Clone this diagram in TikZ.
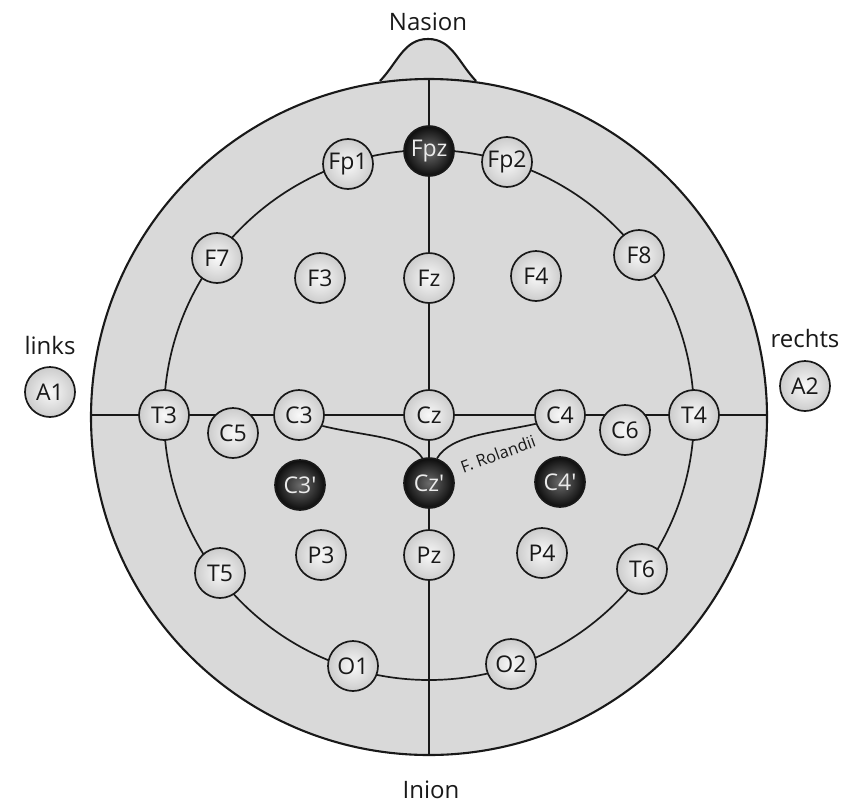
\documentclass[tikz,border=0pt]{standalone}
\usepackage{fontspec}
\setmainfont{Open Sans}
\pgfdeclarelayer{headlayer}
\pgfdeclarelayer{linelayer}
\pgfsetlayers{headlayer,linelayer,main}
\definecolor{headgray}{RGB}{217,217,217}
\definecolor{inkcol}{RGB}{25,25,25}
\begin{document}
\begin{tikzpicture}[x=1pt,y=-1pt,
  electrode/.style={circle, draw=inkcol, line width=1.7pt, minimum size=50pt, inner sep=0pt,
    shading=radial, inner color=white!95!gray, outer color=headgray!94!black,
    text=inkcol, font=\fontsize{23}{23}\selectfont},
  darkelec/.style={electrode, inner color=black!58, outer color=black!95, text=white!92!black},
  wire/.style={draw=inkcol, line width=1.7pt},
  outline/.style={draw=inkcol, line width=2.1pt},
  caption/.style={text=inkcol, font=\fontsize{24}{24}\selectfont},
  fissure/.style={text=inkcol, font=\fontsize{16.5}{16.5}\selectfont, rotate=20, inner sep=0pt}
]
\useasboundingbox (0,0) rectangle (842,803);

% named reference points
\coordinate (hc) at (429,417);
\coordinate (ic) at (429,415);
\coordinate (topP) at (429,79);
\coordinate (botP) at (429,755);
\coordinate (leftP) at (91,415);
\coordinate (rightP) at (767,415);

% electrodes
\node[darkelec]  (Fpz) at (429,151) {Fpz};
\node[electrode] (Fp1) at (348,164) {Fp1};
\node[electrode] (Fp2) at (507,162) {Fp2};
\node[electrode] (F7)  at (217,258) {F7};
\node[electrode] (F3)  at (320,278) {F3};
\node[electrode] (Fz)  at (429,278) {Fz};
\node[electrode] (F4)  at (536,276) {F4};
\node[electrode] (F8)  at (639,255) {F8};
\node[electrode] (T3)  at (164,415) {T3};
\node[electrode] (C5)  at (233,433) {C5};
\node[electrode] (C3)  at (299,415) {C3};
\node[electrode] (Cz)  at (429,415) {Cz};
\node[electrode] (C4)  at (560,415) {C4};
\node[electrode] (C6)  at (625,430) {C6};
\node[electrode] (T4)  at (694,415) {T4};
\node[darkelec]  (C3p) at (300,485) {C3\textquotesingle};
\node[darkelec]  (Czp) at (429,483) {Cz\textquotesingle};
\node[darkelec]  (C4p) at (560,482) {C4\textquotesingle};
\node[electrode] (T5)  at (220,573) {T5};
\node[electrode] (P3)  at (321,555) {P3};
\node[electrode] (Pz)  at (429,555) {Pz};
\node[electrode] (P4)  at (542,553) {P4};
\node[electrode] (T6)  at (642,569) {T6};
\node[electrode] (O1)  at (353,666) {O1};
\node[electrode] (O2)  at (511,664) {O2};
\node[electrode] (A1)  at (50,392) {A1};
\node[electrode] (A2)  at (805,386) {A2};

% captions
\node[caption] (nasion) at (428,22) {Nasion};
\node[caption] (inion)  at (431,790) {Inion};
\node[caption] (links)  at (50,345) {links};
\node[caption] (rechts) at (805,338) {rechts};
\node[fissure] (rol) at (498,454) {F. Rolandii};

% head
\begin{pgfonlayer}{headlayer}
  \fill[white] (0,0) rectangle (842,803);
  \filldraw[fill=headgray, outline] (380,81) .. controls (398,62) and (404,39) .. (428,39)
     .. controls (452,39) and (458,62) .. (476,81);
  \filldraw[fill=headgray, outline] (hc) circle[radius=338];
\end{pgfonlayer}

% connecting lines
\begin{pgfonlayer}{linelayer}
  \draw[wire] (ic) circle[radius=265];
  \draw[wire] (topP) -- (Fpz) -- (Fz) -- (Cz) -- (Czp) -- (Pz) -- (botP);
  \draw[wire] (leftP) -- (T3) -- (C3) -- (Cz) -- (C4) -- (T4) -- (rightP);
  \draw[wire] (C3.-25) .. controls +(45,11) and +(-14,-22) .. (Czp.105);
  \draw[wire] (C4.200) .. controls +(-40,9) and +(14,-24) .. (Czp.72);
\end{pgfonlayer}
\end{tikzpicture}
\end{document}
